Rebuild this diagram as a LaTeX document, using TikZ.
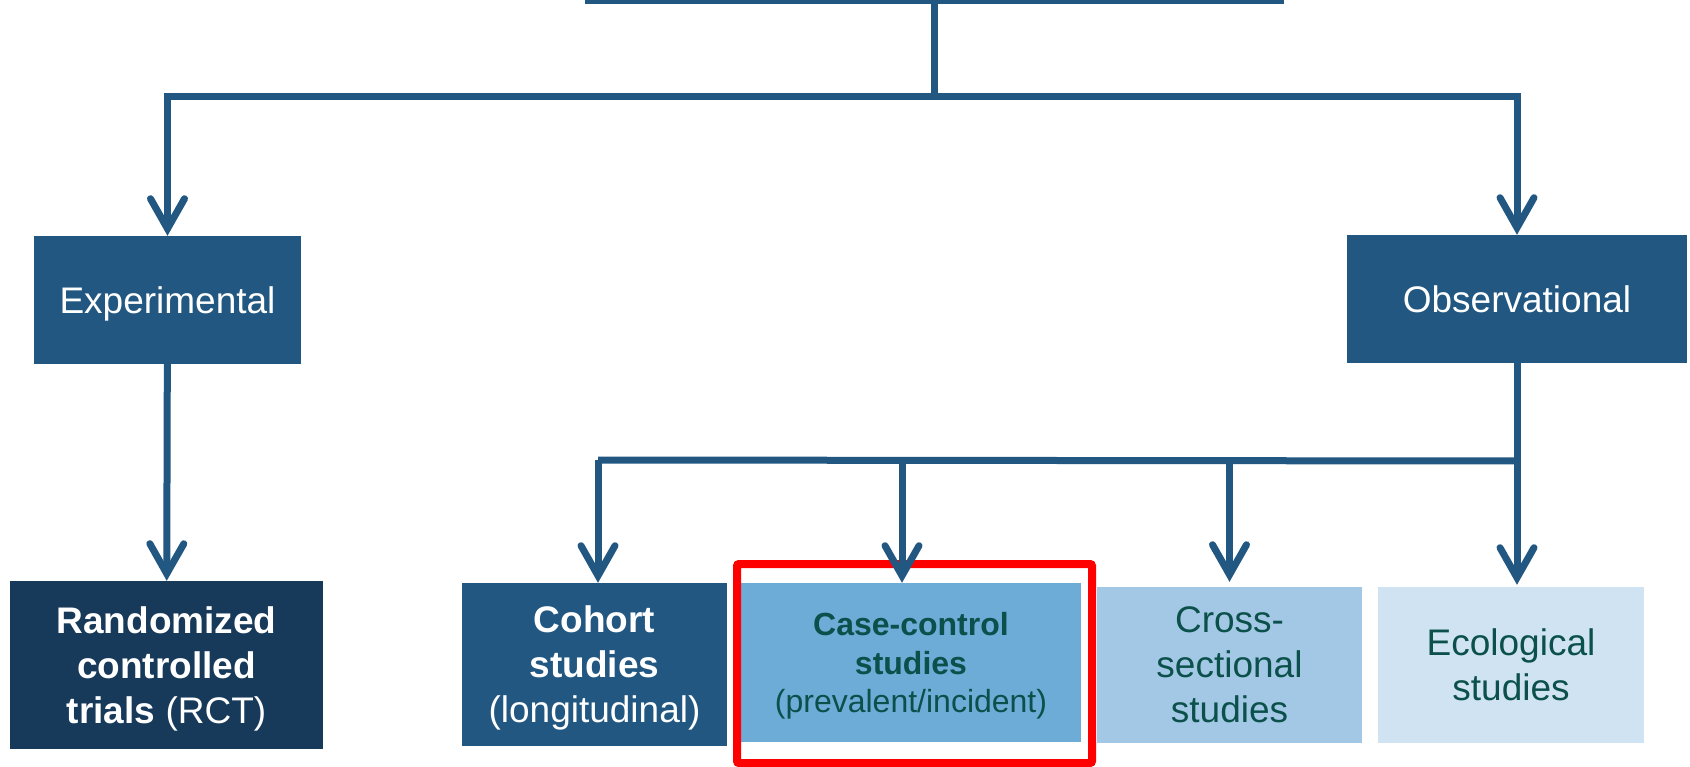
\documentclass[tikz,border=0pt]{standalone}
\usepackage{fontspec}
\setmainfont{Liberation Sans}
\usetikzlibrary{arrows.meta}
\definecolor{navy}{HTML}{215781}
\definecolor{deepnavy}{HTML}{17395A}
\definecolor{midblue}{HTML}{6EACD8}
\definecolor{paleblue}{HTML}{A2C8E6}
\definecolor{iceblue}{HTML}{D0E3F2}
\definecolor{teal}{HTML}{0B504A}
\definecolor{alert}{HTML}{FF0000}
\tikzset{
  box/.style={rectangle, inner sep=0pt, align=center, text depth=0pt, font=\fontsize{37}{45}\selectfont},
  smallbox/.style={box, font=\fontsize{32}{38.5}\selectfont},
  conn/.style={draw=navy, line width=7pt},
  arr/.style={conn, -{Straight Barb[length=30pt, width=34pt, line cap=round]}},
}
\begin{document}
\begin{tikzpicture}[x=1pt, y=-1pt]
  \useasboundingbox (0,0) rectangle (1690,767);
  \clip (0,0) rectangle (1690,767);

  % boxes
  \node[box, fill=navy, minimum width=699, minimum height=64] (root) at (934.5,-28) {};
  \node[box, fill=navy, text=white, minimum width=267, minimum height=128] (exp) at (167.5,300) {Experimental};
  \node[box, fill=navy, text=white, minimum width=340, minimum height=128] (obs) at (1517,299) {Observational};
  \node[box, fill=deepnavy, text=white, minimum width=313, minimum height=168] (rct) at (166.5,665)
    {\textbf{Randomized}\\\textbf{controlled}\\\textbf{trials} (RCT)};
  \node[box, fill=navy, text=white, minimum width=265, minimum height=163] (coh) at (594.5,664.5)
    {\textbf{Cohort}\\\textbf{studies}\\(longitudinal)};
  \node[smallbox, fill=midblue, text=teal, minimum width=340, minimum height=159] (case) at (911,662.5)
    {\textbf{Case-control}\\\textbf{studies}\\(prevalent/incident)};
  \node[box, fill=paleblue, text=teal, minimum width=265, minimum height=156] (cross) at (1229.5,665)
    {Cross-\\sectional\\studies};
  \node[box, fill=iceblue, text=teal, minimum width=266, minimum height=156] (eco) at (1511,665)
    {Ecological\\studies};

  % highlight frame round the case-control box
  \node[draw=alert, line width=8pt, rounded corners=2pt, minimum width=355, minimum height=199, inner sep=0pt]
    (hl) at (914.5,663.5) {};

  % upper branching
  \coordinate (j1) at (934,97);
  \draw[conn] (root.south -| j1) -- (j1);
  \draw[arr] (j1) -| (exp.north);
  \draw[arr] (j1) -| (obs.north);
  \draw[arr] (exp) -- (rct);

  % lower branching
  \coordinate (b2R) at (1517,461);
  \coordinate (b2L) at (598,460);
  \coordinate (tcoh) at ([xshift=3.5pt]coh.north);
  \coordinate (tcase) at ([xshift=-9pt]case.north);
  \coordinate (tcross) at ([yshift=5pt]cross.north);
  \coordinate (teco) at ([yshift=2pt]eco.north -| obs.south);
  \draw[conn] (b2R) -- (b2L);
  \draw[arr] (obs.south) -- (teco);
  \draw[arr] (b2L) -- (tcoh);
  \draw[arr] (tcase |- b2L) -- (tcase);
  \draw[arr] (tcross |- b2L) -- (tcross);
\end{tikzpicture}
\end{document}
